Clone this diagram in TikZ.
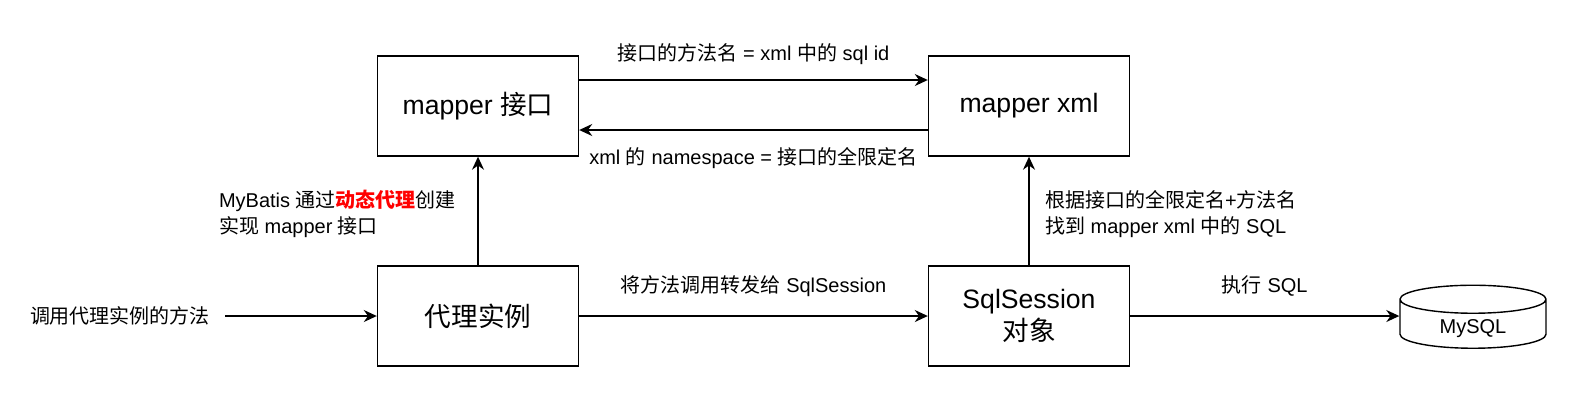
\documentclass[tikz,border=0pt]{standalone}
\usepackage{fontspec}
\setmainfont{Liberation Sans}
\newfontfamily\cjk{Noto Sans CJK SC}
\newcommand\zh[1]{{\cjk #1}}
\usetikzlibrary{arrows.meta, shapes.geometric}

\begin{document}
\begin{tikzpicture}[x=0.5pt, y=-0.5pt, >={Stealth[length=6.5pt, width=6pt]},
box/.style={draw, line width=0.7pt, minimum width=100.5pt, minimum height=50pt, align=center, font=\fontsize{13.3}{16}\selectfont},
db/.style={cylinder, shape border rotate=90, draw, line width=0.7pt, aspect=0.35, minimum width=73pt, minimum height=31.5pt, font=\fontsize{10}{12}\selectfont},
lbl/.style={font=\fontsize{10}{13}\selectfont, align=left},
flow/.style={->, line width=0.8pt}]
\useasboundingbox (0,0) rectangle (1574,404);

% boxes
\node[box] (mapperif) at (478,106) {mapper \zh{接口}};
\node[box] (mapperxml) at (1029,106) {mapper xml};
\node[box] (proxy) at (478,316) {\zh{代理实例}};
\node[box] (session) at (1029,316) {SqlSession\\\zh{对象}};
\node[db] (mysql) at (1473,327) {\raisebox{-3pt}[0pt][0pt]{MySQL}};
\node[lbl] (call) at (120,316) {\zh{调用代理实例的方法}};

% interface <-> xml
\draw[flow] ([yshift=13pt]mapperif.east) -- ([yshift=13pt]mapperxml.west)
  node[lbl, midway, above=4pt] {\zh{接口的方法名} = xml \zh{中的} sql id};
\draw[flow] ([yshift=-12pt]mapperxml.west) -- ([yshift=-12pt]mapperif.east)
  node[lbl, midway, below=5pt] {xml \zh{的} namespace = \zh{接口的全限定名}};

% vertical
\draw[flow] (proxy) -- (mapperif);
\draw[flow] (session) -- (mapperxml);
\node[lbl, anchor=west] (proxytxt) at (212,214) {MyBatis \zh{通过}\textcolor{red}{\zh{\bfseries 动态代理}}\zh{创建}\\\zh{实现} mapper \zh{接口}};
\node[lbl, anchor=west] (sessiontxt) at (1038,214) {\zh{根据接口的全限定名}+\zh{方法名}\\\zh{找到} mapper xml \zh{中的} SQL};

% bottom row
\draw[flow] (call.east) ++(4pt,0) -- (proxy.west);
\draw[flow] (proxy) -- (session)
  node[lbl, midway, above=6pt] {\zh{将方法调用转发给} SqlSession};
\draw[flow] (session.east) -- (mysql.west |- session.east)
  node[lbl, midway, above=6pt] {\zh{执行} SQL};
\end{tikzpicture}
\end{document}
